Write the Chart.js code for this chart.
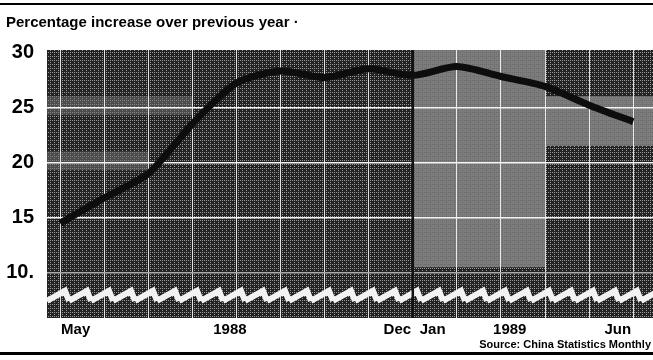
<!DOCTYPE html>
<html>
<head>
<meta charset="utf-8">
<script src="https://cdn.jsdelivr.net/npm/chart.js@4.4.0/dist/chart.umd.min.js"></script>
<style>
  html, body { margin: 0; padding: 0; background: #fff; }
  #wrap { width: 653px; height: 360px; }
</style>
</head>
<body>
<div id="wrap"><canvas id="c" width="653" height="360"></canvas></div>
<script>
// monthly points, May 1988 .. Jun 1989
const months = ["May 88", "Jun 88", "Jul 88", "Aug 88", "Sep 88", "Oct 88", "Nov 88",
                "Dec 88", "Jan 89", "Feb 89", "Mar 89", "Apr 89", "May 89", "Jun 89"];
const increase = [14.5, 16.8, 19.0, 23.5, 27.2, 28.3, 27.7, 28.5, 27.9, 28.7, 27.8, 26.9, 25.2, 23.7];

const xLabels = ["May", "1988", "Dec", "Jan", "1989", "Jun"];
const xLabelAt = [0.35, 3.85, 7.65, 8.45, 10.2, 12.65];
const yTicks = [10, 15, 20, 25, 30];

const FONT = '"Liberation Sans", Arial, sans-serif';

// halftone-ish tile for the plot background
function makeTile(bg, dot, alpha) {
  const t = document.createElement("canvas");
  t.width = 4; t.height = 4;
  const g = t.getContext("2d");
  g.fillStyle = bg; g.fillRect(0, 0, 4, 4);
  g.globalAlpha = alpha;
  g.fillStyle = dot;
  g.fillRect(0, 0, 1, 1); g.fillRect(2, 2, 1, 1);
  g.fillRect(2, 0, 1, 1);
  return t;
}

const backdrop = {
  id: "backdrop",
  beforeDraw(chart) {
    const { ctx, chartArea: a, scales } = chart;
    const x = scales.x, y = scales.y;
    ctx.save();
    ctx.fillStyle = ctx.createPattern(makeTile("#222", "#fff", 0.55), "repeat");
    ctx.fillRect(a.left, a.top, a.right - a.left, a.bottom - a.top);
    // lighter mottled patches
    ctx.fillStyle = ctx.createPattern(makeTile("#8c8c8c", "#333", 0.5), "repeat");
    const xDiv = x.getPixelForValue(8);
    ctx.globalAlpha = 0.85;
    ctx.fillRect(xDiv, a.top, x.getPixelForValue(11) - xDiv, y.getPixelForValue(10.5) - a.top);
    ctx.fillRect(x.getPixelForValue(11), y.getPixelForValue(26), a.right - x.getPixelForValue(11), y.getPixelForValue(21.5) - y.getPixelForValue(26));
    ctx.globalAlpha = 0.4;
    ctx.fillRect(a.left, y.getPixelForValue(26), x.getPixelForValue(3) - a.left, y.getPixelForValue(24.3) - y.getPixelForValue(26));
    ctx.fillRect(a.left, y.getPixelForValue(21), x.getPixelForValue(2) - a.left, y.getPixelForValue(19.3) - y.getPixelForValue(21));
    ctx.restore();
  },
  beforeDatasetsDraw(chart) {
    const { ctx, chartArea: a, scales } = chart;
    const x = scales.x, y = scales.y;
    ctx.save();
    // wavy white band below the 10 line
    const yb = y.getPixelForValue(8.0);
    ctx.strokeStyle = "#f2f2f2";
    ctx.lineWidth = 6;
    ctx.beginPath();
    for (let px = a.left; px <= a.right + 22; px += 22) {
      ctx.moveTo(px, yb + 6);
      ctx.lineTo(px + 18, yb - 4);
      ctx.lineTo(px + 22, yb + 6);
    }
    ctx.stroke();
    // Dec / Jan divider
    const xd = x.getPixelForValue(8);
    ctx.strokeStyle = "#111";
    ctx.lineWidth = 2.5;
    ctx.beginPath();
    ctx.moveTo(xd, a.top);
    ctx.lineTo(xd, a.bottom);
    ctx.stroke();
    ctx.restore();
  },
  afterDraw(chart) {
    const ctx = chart.ctx;
    ctx.save();
    ctx.fillStyle = "#000";
    ctx.font = "bold 11px " + FONT;
    ctx.textAlign = "right";
    ctx.textBaseline = "middle";
    ctx.fillText("Source: China Statistics Monthly", 651, 345);
    ctx.fillRect(0, 352, 653, 3);
    ctx.fillRect(0, 3, 653, 2);
    ctx.restore();
  }
};

new Chart(document.getElementById("c"), {
  type: "line",
  data: {
    labels: months,
    datasets: [{
      data: increase.map((v, i) => ({ x: i, y: v })),
      borderColor: "#0d0d0d",
      borderWidth: 7,
      pointRadius: 0,
      tension: 0.25,
      xAxisID: "x",
      yAxisID: "y",
    }],
  },
  options: {
    responsive: false,
    animation: false,
    layout: { padding: { left: 6, right: 0, top: 0, bottom: 16 } },
    plugins: {
      legend: { display: false },
      tooltip: { enabled: false },
      title: {
        display: true,
        align: "start",
        text: "Percentage increase over previous year \u00b7",
        color: "#000",
        font: { family: FONT, size: 15, weight: "bold" },
        padding: { top: 14, bottom: 18 },
      },
    },
    scales: {
      x: {
        type: "linear",
        position: "bottom",
        min: -0.3,
        max: 13.45,
        afterBuildTicks: (s) => { s.ticks = xLabelAt.map((v) => ({ value: v })); },
        afterFit: (s) => { s.height = 26; },
        ticks: {
          autoSkip: false,
          maxRotation: 0,
          padding: 3,
          color: "#000",
          font: { family: FONT, size: 15, weight: "bold" },
          callback: (v, i) => xLabels[i],
        },
        grid: { display: false, drawTicks: false },
        border: { display: false },
      },
      xg: {
        type: "linear",
        position: "bottom",
        min: -0.3,
        max: 13.45,
        afterBuildTicks: (s) => { s.ticks = months.map((m, i) => ({ value: i })); },
        afterFit: (s) => { s.height = 0; },
        ticks: { display: false },
        grid: { color: "rgba(255,255,255,0.85)", lineWidth: 1, drawTicks: false },
        border: { display: false },
      },
      y: {
        min: 5.9,
        max: 30.2,
        afterBuildTicks: (s) => { s.ticks = yTicks.map((v) => ({ value: v })); },
        afterFit: (s) => { s.width = 41; },
        ticks: {
          padding: 13,
          color: "#000",
          font: { family: FONT, size: 20, weight: "bold" },
          callback: (v) => (v === 10 ? "10." : String(v)),
        },
        grid: {
          drawTicks: false,
          lineWidth: 1.5,
          color: (c) => (c.tick && c.tick.value === 30 ? "rgba(0,0,0,0)" : c.tick && c.tick.value === 10 ? "#aaa" : "#f4f4f4"),
        },
        border: { display: false },
      },
    },
  },
  plugins: [backdrop],
});
</script>
</body>
</html>
